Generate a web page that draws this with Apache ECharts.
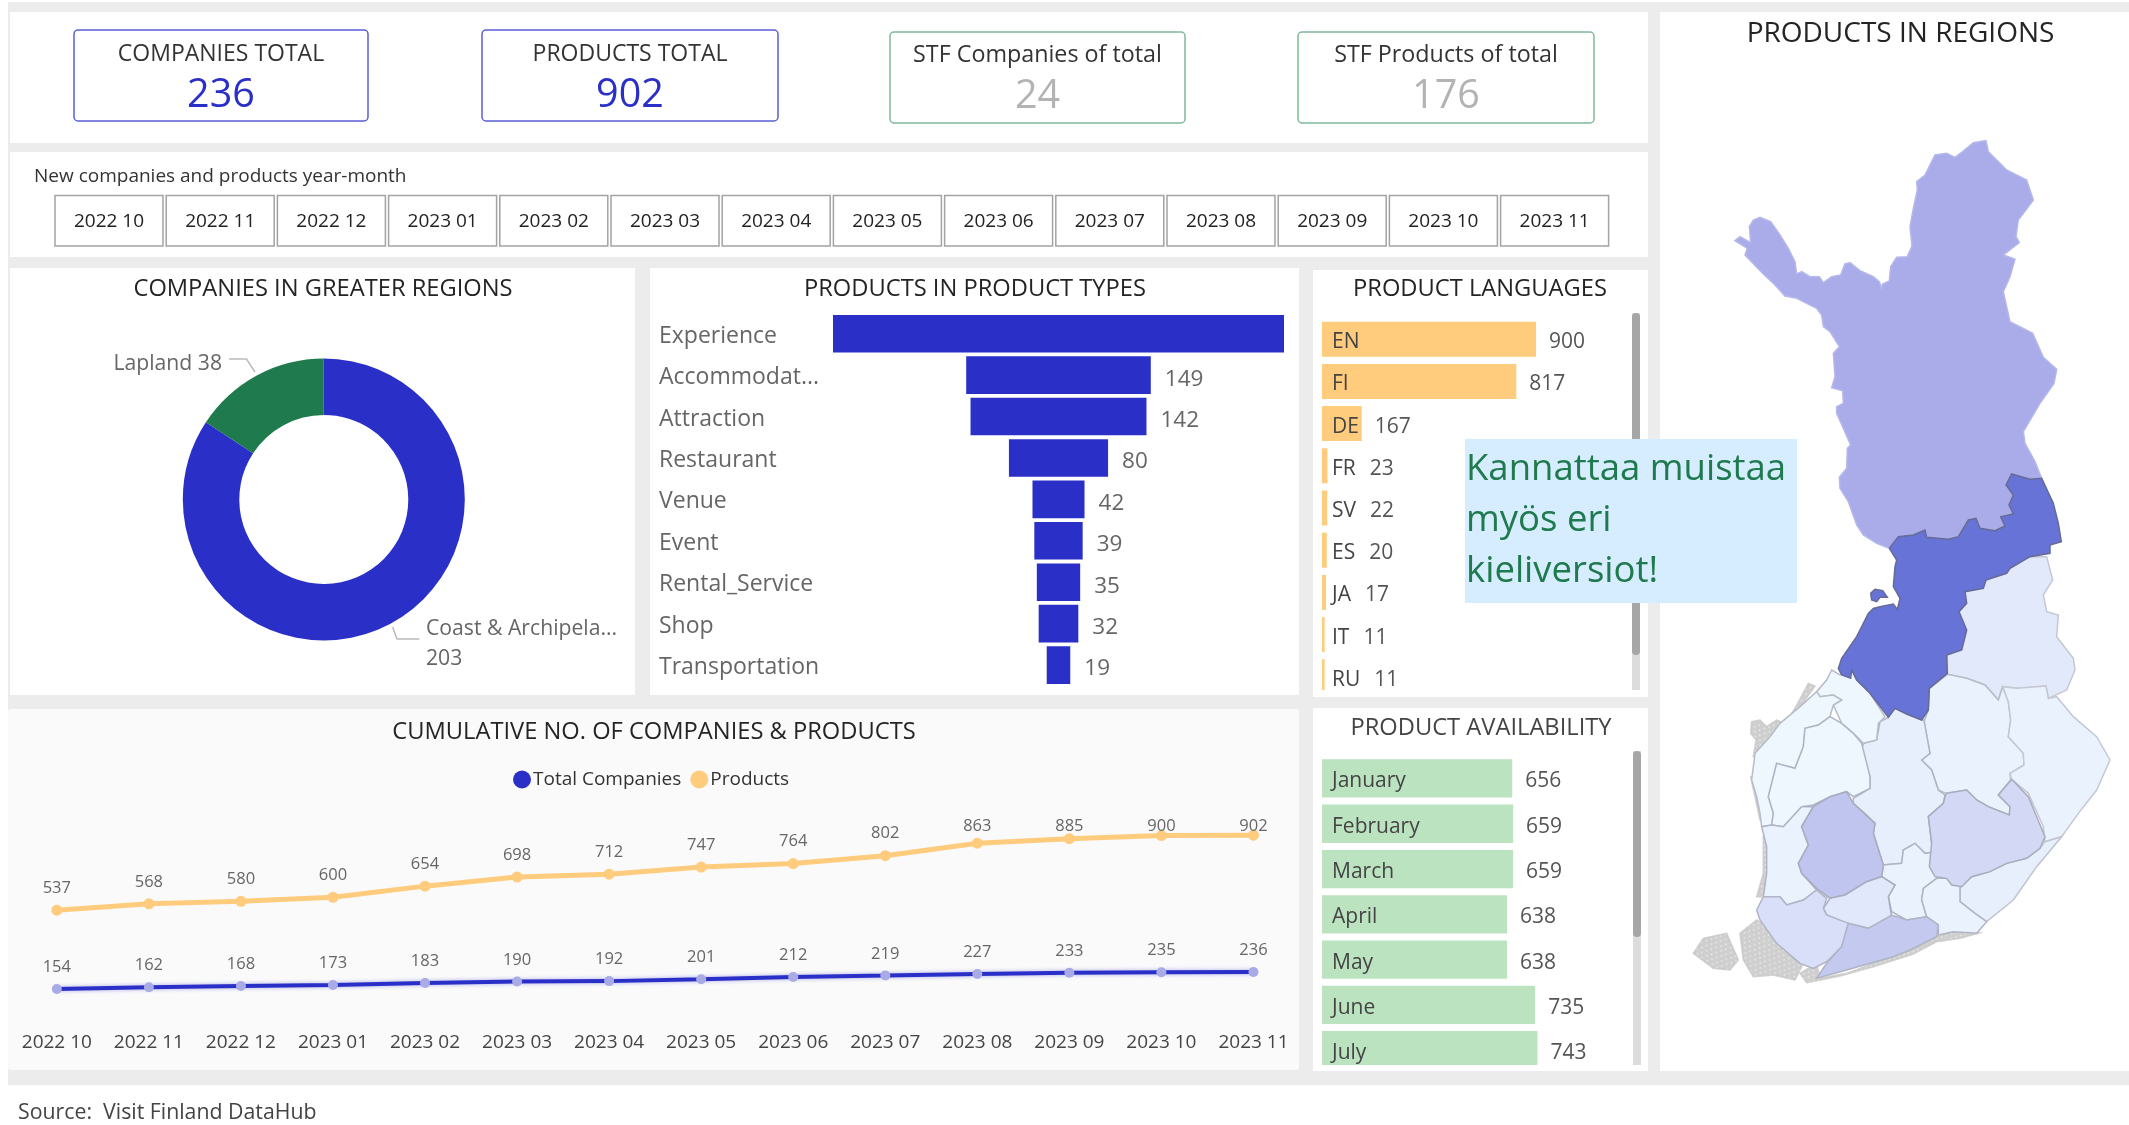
<!DOCTYPE html>
<html><head><meta charset="utf-8">
<style>html,body{margin:0;padding:0;background:#fff}#c{width:2129px;height:1125px}</style>
<script src="https://cdn.jsdelivr.net/npm/echarts@6/dist/echarts.min.js"></script>
</head><body><div id="c"></div>
<script>
const kpiLabels = ['COMPANIES TOTAL','PRODUCTS TOTAL','STF Companies of total','STF Products of total'];
const kpiValues = ['236','902','24','176'];
const months = ['2022 10','2022 11','2022 12','2023 01','2023 02','2023 03','2023 04','2023 05','2023 06','2023 07','2023 08','2023 09','2023 10','2023 11'];
const regionNames = ['Coast & Archipela...','Lapland'];
const regionCompanies = [203,38];
const productTypes = ['Experience','Accommodat...','Attraction','Restaurant','Venue','Event','Rental_Service','Shop','Transportation'];
const productTypeCounts = [364,149,142,80,42,39,35,32,19];
const languages = ['EN','FI','DE','FR','SV','ES','JA','IT','RU'];
const languageCounts = [900,817,167,23,22,20,17,11,11];
const availMonths = ['January','February','March','April','May','June','July'];
const availCounts = [656,659,659,638,638,735,743];
const totalCompanies = [154,162,168,173,183,190,192,201,212,219,227,233,235,236];
const totalProducts = [537,568,580,600,654,698,712,747,764,802,863,885,900,902];

// Map outlines (traced region borders, map units; y grows downward)
const lapland=[[225,362],[240,350],[272,368],[268,320],[280,300],[300,292],[332,305],[360,345],[385,385],[405,425],[410,462],[425,455],[450,470],[478,470],[490,488],[515,470],[542,465],[555,432],[570,428],[600,452],[640,470],[658,485],[665,505],[668,492],[688,483],[692,440],[710,412],[742,410],[756,378],[750,320],[760,265],[772,210],[770,185],[795,165],[825,105],[860,100],[885,112],[908,95],[940,68],[978,62],[985,95],[1020,130],[1040,150],[1100,180],[1120,240],[1075,300],[1068,350],[1078,368],[1030,405],[1065,418],[1050,470],[1030,515],[1050,605],[1118,640],[1150,712],[1190,748],[1182,790],[1140,850],[1090,935],[1095,970],[1125,1025],[1145,1075],[1110,1078],[1055,1062],[1038,1095],[1060,1125],[1047,1155],[1060,1182],[1022,1190],[1035,1218],[1005,1232],[960,1225],[948,1195],[925,1200],[895,1250],[865,1258],[800,1252],[795,1230],[760,1245],[715,1250],[688,1285],[650,1270],[610,1245],[590,1215],[565,1145],[540,1105],[538,1072],[560,1045],[562,985],[572,975],[530,880],[530,860],[550,850],[548,812],[515,803],[525,770],[520,700],[538,680],[510,635],[490,620],[485,585],[470,565],[410,535],[375,528],[345,495],[310,462],[255,405],[262,385]];
const northOstrobothnia=[[1145,1075],[1180,1150],[1195,1210],[1204,1265],[1170,1275],[1170,1300],[1110,1310],[1050,1345],[1040,1360],[978,1380],[970,1405],[915,1415],[920,1450],[897,1475],[920,1530],[905,1590],[860,1605],[862,1660],[808,1705],[805,1770],[785,1800],[740,1782],[705,1765],[685,1792],[630,1720],[590,1680],[575,1650],[572,1675],[545,1665],[535,1645],[545,1615],[590,1550],[625,1480],[640,1465],[660,1460],[700,1452],[712,1468],[720,1435],[700,1400],[705,1340],[710,1320],[688,1285],[715,1250],[760,1245],[795,1230],[800,1252],[865,1258],[895,1250],[925,1200],[948,1195],[960,1225],[1005,1232],[1035,1218],[1022,1190],[1060,1182],[1047,1155],[1060,1125],[1038,1095],[1055,1062],[1110,1078]];
const hailuoto=[[632,1420],[645,1408],[668,1412],[682,1432],[660,1432],[650,1445],[635,1440]];
const south = pts => pts.map(([x,y]) => [x,y+1380]);
const kainuu=south([[915,35],[978,0],[1050,-35],[1110,-70],[1160,-70],[1178,0],[1150,45],[1160,95],[1195,105],[1190,170],[1240,235],[1245,270],[1220,330],[1165,355],[1158,318],[1070,325],[1028,320],[1015,360],[975,315],[920,295],[862,283],[862,225],[905,210],[920,150],[897,95],[920,70]]);
const northSavo=south([[862,283],[920,295],[975,315],[1015,360],[1028,320],[1045,365],[1052,420],[1045,470],[1090,520],[1092,555],[1050,580],[1052,600],[1015,645],[1050,680],[1048,705],[985,680],[950,660],[920,630],[858,640],[835,630],[815,570],[785,540],[810,520],[792,425],[805,390],[808,325]]);
const northKarelia=south([[1028,320],[1070,325],[1158,318],[1165,355],[1190,350],[1240,410],[1310,470],[1350,540],[1310,630],[1255,700],[1205,770],[1155,785],[1150,740],[1105,640],[1055,598],[1052,600],[1050,580],[1092,555],[1090,520],[1045,470],[1052,420],[1045,365]]);
const southSavo=south([[1055,598],[1105,650],[1130,710],[1155,770],[1140,805],[1100,835],[1040,850],[990,875],[935,890],[905,920],[875,915],[860,895],[825,890],[808,860],[815,790],[805,710],[850,670],[858,640],[920,630],[950,660],[985,680],[1048,705],[1050,680],[1015,645]]);
const southKarelia=south([[1205,770],[1130,860],[1060,960],[980,1025],[945,1000],[900,965],[900,920],[935,890],[990,875],[1040,850],[1100,835],[1140,805],[1155,785]]);
const centralFinland=south([[792,420],[810,520],[785,540],[815,570],[835,630],[855,645],[850,670],[805,710],[815,790],[832,815],[795,820],[765,790],[730,810],[725,850],[670,855],[640,760],[645,730],[620,705],[580,670],[580,655],[630,625],[630,590],[605,510],[610,490],[650,480],[660,425],[685,412],[705,385],[740,402],[785,420]]);
const centralOstrobothnia=south([[515,270],[540,285],[575,270],[590,300],[630,340],[675,410],[655,430],[650,480],[610,490],[580,460],[545,430],[520,375],[545,360],[520,345],[480,350],[470,335],[500,300]]);
const ostrobothnia=south([[470,335],[480,350],[520,345],[545,360],[520,375],[510,410],[475,435],[435,445],[430,500],[405,565],[350,550],[325,650],[340,700],[335,735],[305,740],[300,700],[290,650],[275,600],[285,520],[330,470],[360,430],[420,380]]);
const southOstrobothnia=south([[510,410],[545,430],[580,460],[605,490],[630,590],[630,625],[580,650],[560,635],[510,650],[460,675],[425,680],[370,740],[335,735],[340,700],[325,650],[350,550],[405,565],[430,500],[435,445],[475,435]]);
const pirkanmaa=south([[560,635],[580,670],[645,730],[640,760],[670,855],[665,890],[620,905],[555,945],[510,955],[470,925],[425,880],[415,850],[445,795],[425,740],[460,680],[510,650]]);
const satakunta=south([[305,740],[335,735],[370,740],[425,680],[460,680],[425,740],[445,795],[415,850],[425,880],[470,930],[430,960],[380,975],[360,950],[310,950],[320,880],[320,800]]);
const kantaHame=south([[555,945],[620,905],[665,890],[705,915],[685,950],[695,1010],[625,1045],[560,1030],[500,1005],[490,985],[510,955]]);
const paijatHame=south([[670,855],[725,850],[730,810],[765,790],[795,820],[832,815],[830,895],[790,925],[785,960],[800,1010],[740,1020],[695,995],[685,950],[705,915],[665,890]]);
const kymenlaakso=south([[830,895],[860,895],[900,920],[900,965],[945,1000],[980,1025],[950,1060],[880,1055],[835,1065],[835,1035],[800,1010],[785,960],[790,925]]);
const uusimaa=south([[565,1030],[625,1045],[695,1005],[740,1020],[800,1010],[835,1035],[830,1070],[750,1110],[700,1130],[630,1150],[560,1170],[470,1195],[500,1150],[545,1100]]);
const southwestFinland=south([[310,950],[360,950],[380,975],[430,960],[470,930],[500,955],[490,985],[500,1005],[565,1030],[545,1100],[500,1145],[460,1165],[420,1150],[350,1090],[300,1020],[290,990]]);
const archipelagoParts=[
 [[275,425],[300,420],[320,440],[350,420],[375,430],[405,385],[445,310],[465,318],[435,360],[395,450],[330,490],[300,540],[280,530],[288,480],[272,460]],
 [[272,590],[282,590],[310,720],[300,720]],
 [[310,770],[328,780],[328,880],[305,950],[290,950],[310,880]],
 [[240,1060],[290,1020],[350,1060],[420,1085],[430,1150],[405,1200],[340,1185],[280,1190],[250,1140]],
 [[420,1180],[470,1150],[480,1195],[560,1180],[640,1150],[750,1110],[830,1070],[900,1050],[960,1058],[900,1075],[830,1085],[760,1122],[640,1160],[540,1188],[440,1208]],
 [[100,1120],[130,1075],[200,1060],[235,1140],[210,1170],[160,1165]]
].map(south);

const mapRegions = [
 ['Archipelago',archipelagoParts,'#cfcfcf','rgba(200,200,200,0.5)'],
 ['Lapland',[lapland],'#a9ace8','#b5b8ea'],
 ['Kainuu',[kainuu],'#e2e9fa','#c4c8d4'],
 ['North Savo',[northSavo],'#eaf2fd','#b8bcc8'],
 ['North Karelia',[northKarelia],'#eaf2fd','#c4c8d4'],
 ['South Karelia',[southKarelia],'#e7effc','#c0c4d0'],
 ['Central Finland',[centralFinland],'#e7effc','#b0b4c4'],
 ['Central Ostrobothnia',[centralOstrobothnia],'#eef6fe','#b8bcc8'],
 ['Ostrobothnia',[ostrobothnia],'#eef6fe','#b8bcc8'],
 ['South Ostrobothnia',[southOstrobothnia],'#eef6fe','#b0b4c4'],
 ['Satakunta',[satakunta],'#eaf2fd','#b0b4c4'],
 ['Paijat-Hame',[paijatHame],'#eaf2fd','#b0b4c4'],
 ['Kymenlaakso',[kymenlaakso],'#eaf2fd','#b0b4c4'],
 ['South Savo',[southSavo],'#d3d9f4','#a8acbc'],
 ['Pirkanmaa',[pirkanmaa],'#bfc5ee','#a8acbc'],
 ['Kanta-Hame',[kantaHame],'#e1e8fb','#a8acbc'],
 ['Southwest Finland',[southwestFinland],'#d9dff8','#b0b4c4'],
 ['Uusimaa',[uusimaa],'#c3c9ef','#b0b4c4'],
 ['North Ostrobothnia',[northOstrobothnia,hailuoto],'#6873d8','#666b95']
];

const FONT = '"Open Sans", "Noto Sans", sans-serif';
const BLUE='#2a2fc7', ORANGE='#ffcb7d', GREEN='#1f7a4d', GREY='#ececec';

const geoJson = {type:'FeatureCollection',features:mapRegions.map(([name,rings])=>({
  type:'Feature',properties:{name},
  geometry:{type:'MultiPolygon',coordinates:rings.map(r=>[r.concat([r[0]])])}
}))};
echarts.registerMap('finland',geoJson);

const ctx=document.createElement('canvas').getContext('2d');
const tw=(s,size)=>{ctx.font=size+'px "Open Sans"';return ctx.measureText(s).width;};

const g=[];
const rect=(x,y,w,h,fill,z=-5,extra={})=>g.push({type:'rect',silent:true,z,shape:{x,y,width:w,height:h,r:extra.r||0},style:{fill,stroke:extra.stroke||null,lineWidth:extra.lw||0}});
const text=(x,y,t,size,fill,align='center',z=5,weight='normal')=>g.push({type:'text',silent:true,z,x,y:y+2,style:{text:t,fontFamily:FONT,fontSize:size,fontWeight:weight,fill,align,verticalAlign:'middle'}});

rect(8,2,2121,1083,GREY,-10);
rect(10,12,1638,131,'#fff');
rect(10,152,1638,105,'#fff');
rect(10,268,625,427,'#fff');
rect(650,268,649,427,'#fff');
rect(1313,270,335,427,'#fff');
rect(8,709,1291,361,'#fafafa',-5,{r:3});
rect(1313,708,335,363,'#fff');
rect(1660,12,469,1059,'#fff');
rect(0,1085,2129,40,'#fff');

const cards=[[74,30,294,91,'#5a5fd8',BLUE,52,94],[482,30,296,91,'#5a5fd8',BLUE,52,94],[890,32,295,91,'#7fb89a','#b3b3b3',53,95],[1298,32,296,91,'#7fb89a','#b3b3b3',53,95]];
cards.forEach((c,i)=>{
  rect(c[0],c[1],c[2],c[3],'#fff',-3,{r:4,stroke:c[4],lw:1.5});
  text(c[0]+c[2]/2,c[6],kpiLabels[i],i<2?23:23.3,'#333');
  text(c[0]+c[2]/2,c[7],kpiValues[i],39.5,c[5]);
});
text(34,175,'New companies and products year-month',19,'#333','left');
months.forEach((m,i)=>{
  const x=55+i*111.2;
  rect(x,195.5,108,50.5,'#fff',-3,{stroke:'#a3a3a3',lw:1.5});
  text(x+54,220,m,19,'#222');
});
text(323,287,'COMPANIES IN GREATER REGIONS',23.7,'#252423');
text(975,287,'PRODUCTS IN PRODUCT TYPES',23.7,'#252423');
text(1480,287,'PRODUCT LANGUAGES',23.7,'#252423');
text(1481,726,'PRODUCT AVAILABILITY',23.7,'#444');
text(654,730,'CUMULATIVE NO. OF COMPANIES & PRODUCTS',23.7,'#252423');
text(1900.5,32,'PRODUCTS IN REGIONS',28,'#252423');
text(18,1111,'Source:  Visit Finland DataHub',21.3,'#444','left');

// scrollbars
rect(1632,313,8,377,'#dcdcdc',-2);
rect(1632,313,8,342,'#a6a6a6',-1,{r:4});
rect(1633,751,8,314,'#dcdcdc',-2);
rect(1633,751,8,186,'#a6a6a6',-1,{r:4});
// clip rows that continue below the visible list
rect(1316,690,310,7,'#fff',40);
rect(1316,1065,310,6,'#fff',40);
// callout
rect(1465,439,332,164,'#d6ecff',90);
text(1466,468,'Kannattaa muistaa',36.5,GREEN,'left',91);
text(1466,519,'myös eri',36.5,GREEN,'left',91);
text(1466,570,'kieliversiot!',36.5,GREEN,'left',91);

const LABEL_DROP=3;
const valueOffsets=(names,vals,pxPerUnit,size)=>vals.map((v,i)=>{
  const need=tw(names[i],size)+10+14;
  const bar=v*pxPerUnit+13;
  return {value:v,label:{offset:[Math.max(0,need-bar),LABEL_DROP]}};
});
const nudgedLabel=(size,color,pad)=>({formatter:v=>`{a|${v}}`,rich:{a:{fontSize:size,fontFamily:FONT,color,padding:[pad,0,0,0]}}});
const catAxis=(names,gi,size)=>({type:'category',gridIndex:gi,data:names,inverse:true,z:3,axisLine:{show:false},axisTick:{show:false},
  axisLabel:Object.assign({inside:true,margin:10},nudgedLabel(size,'#444',6))});
const valAxis=(gi,max)=>({type:'value',gridIndex:gi,min:0,max,show:false,splitLine:{show:false}});
const hiddenY=(gi)=>({type:'value',gridIndex:gi,min:0,max:1000,show:false,splitLine:{show:false}});
const maxType=Math.max(...productTypeCounts);

// products labels stop at the top edge of the plot
const LINE_ZERO=1020.6, LINE_PX=205.6/1000, LINE_GAP=24, LINE_TOP=824;
const cappedProducts=totalProducts.map(v=>({value:v,label:{offset:[0,Math.max(0,LINE_TOP-(LINE_ZERO-v*LINE_PX-LINE_GAP))]}}));

const option={
  animation:false,
  backgroundColor:'#fff',
  textStyle:{fontFamily:FONT},
  graphic:{elements:g},
  grid:[
    {left:833,top:313,width:451,height:372.8},
    {left:1322,top:318.1,width:285.4,height:379.8},
    {left:1322,top:755.8,width:290,height:317.1},
    {left:10.8,top:815,width:1288.7,height:205.6}
  ],
  legend:{left:508,top:765,icon:'circle',itemWidth:18,itemHeight:18,itemGap:9,
    data:[{name:'Total Companies',itemStyle:{color:BLUE}},{name:'Products',itemStyle:{color:ORANGE}}],
    textStyle:{fontFamily:FONT,fontSize:19,color:'#333',padding:[0,0,0,-3]}},
  xAxis:[
    valAxis(0,maxType),
    valAxis(1,1200),
    valAxis(2,1000),
    {type:'category',gridIndex:3,data:months,boundaryGap:true,axisLine:{show:false},axisTick:{show:false},
     axisLabel:{interval:0,margin:12,fontSize:19,fontFamily:FONT,fontWeight:500,color:'#444'}}
  ],
  yAxis:[
    {type:'category',gridIndex:0,data:productTypes,inverse:true,axisLine:{show:false},axisTick:{show:false},
     axisLabel:Object.assign({align:'left',margin:174},nudgedLabel(23,'#666',5))},
    catAxis(languages,1,21),
    catAxis(availMonths,2,21),
    hiddenY(3)
  ],
  series:[
    {type:'pie',center:[323.8,499.5],radius:[84.5,141],startAngle:90,silent:true,
     data:regionNames.map((n,i)=>({name:n,value:regionCompanies[i],itemStyle:{color:[BLUE,GREEN][i]}})),
     label:{formatter:p=>p.dataIndex===0?p.name+'\n'+p.value:p.name+' '+p.value,fontSize:21.2,lineHeight:30,fontFamily:FONT,color:'#666'},
     labelLine:{show:true,lineStyle:{color:'#bbb',width:1.5}},
     labelLayout:p=>p.dataIndex===0
       ?{x:426,y:644,align:'left',verticalAlign:'middle',labelLinePoints:[[392.6,627],[397,639],[419.4,639]]}
       :{x:222,y:364,align:'right',verticalAlign:'middle',labelLinePoints:[[255,372],[246.5,359],[229,359]]}
    },
    {type:'bar',xAxisIndex:0,yAxisIndex:0,stack:'funnel',barWidth:37.6,silent:true,
     itemStyle:{color:'transparent'},data:productTypeCounts.map(v=>(maxType-v)/2)},
    {type:'bar',xAxisIndex:0,yAxisIndex:0,stack:'funnel',barWidth:37.6,silent:true,
     itemStyle:{color:BLUE},
     label:{show:true,position:'right',distance:14,offset:[0,4],fontSize:22.5,fontFamily:FONT,color:'#666'},
     data:productTypeCounts.map((v,i)=>i===0?{value:v,label:{show:false}}:v)},
    {type:'bar',xAxisIndex:1,yAxisIndex:1,barWidth:35,silent:true,itemStyle:{color:ORANGE},
     label:{show:true,position:'right',distance:13,fontSize:21,fontFamily:FONT,color:'#555'},
     data:valueOffsets(languages,languageCounts,285.4/1200,21)},
    {type:'bar',xAxisIndex:2,yAxisIndex:2,barWidth:38.3,silent:true,itemStyle:{color:'#bce3bf'},
     label:{show:true,position:'right',distance:13,offset:[0,LABEL_DROP],fontSize:21,fontFamily:FONT,color:'#555'},
     data:availCounts},
    {type:'line',name:'Total Companies',xAxisIndex:3,yAxisIndex:3,data:totalCompanies,silent:true,
     symbol:'circle',symbolSize:10,lineStyle:{color:BLUE,width:4,shadowColor:'#a9abe6',shadowBlur:4},itemStyle:{color:'#a9abe6'},
     label:{show:true,position:'top',distance:8,fontSize:16.5,fontFamily:FONT,color:'#666'}},
    {type:'line',name:'Products',xAxisIndex:3,yAxisIndex:3,data:cappedProducts,silent:true,
     symbol:'circle',symbolSize:11,lineStyle:{color:ORANGE,width:5},itemStyle:{color:ORANGE},
     label:{show:true,position:'top',distance:8,fontSize:16.5,fontFamily:FONT,color:'#666'}},
    {type:'map',map:'finland',silent:true,roam:false,showLegendSymbol:false,
     projection:{project:p=>p,unproject:p=>p},
     boundingCoords:[[0,0],[1407,2880]],
     left:1660,top:120,width:469,height:960,
     label:{show:false},emphasis:{disabled:true},select:{disabled:true},
     data:mapRegions.map(([name,,fill,border])=>({name,value:1,itemStyle:Object.assign({areaColor:fill,borderColor:border,borderWidth:1.5},
       name==='Archipelago'?{decal:{symbol:'circle',symbolSize:0.7,dashArrayX:[[3,3],[0,3,3,0]],dashArrayY:[2,2],rotation:0.6,color:'rgba(255,255,255,0.85)'}}:{})}))}
  ]
};
const chart=echarts.init(document.getElementById('c'),null,{renderer:'canvas'});
chart.setOption(option);
</script></body></html>
